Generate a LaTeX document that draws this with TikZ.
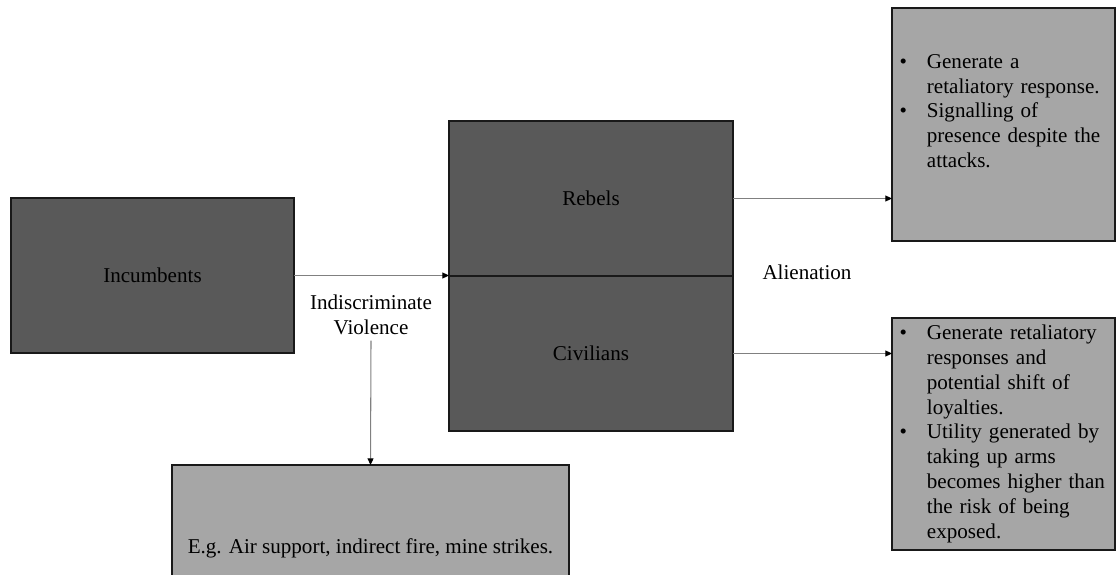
\documentclass[tikz,border=0pt]{standalone}
\usepackage{fontspec}
\setmainfont{Liberation Serif}
\usetikzlibrary{arrows, arrows.meta, positioning, calc}
\tikzset{
    darkbox/.style={
        draw=black!90,
        line width=0.8pt,
        fill=black!65,
        minimum width=5.66cm,
        minimum height=3.1cm,
        outer sep=0pt,
    },
    lightbox/.style={
        draw=black!90,
        line width=0.8pt,
        fill=black!35,
        outer sep=0pt,
        inner sep=0pt,
    },
    notebox/.style={
        lightbox,
        text width=4.16cm,
        minimum height=#1,
        align=left,
        inner xsep=0.15cm,
    },
    link/.style={
        draw=black!50,
        line width=0.6pt,
        -{Triangle[length=3.8pt,width=3.4pt,black]},
    },
}

\begin{document}
\begin{tikzpicture}[font=\fontsize{12}{14.2}\selectfont]

\useasboundingbox (0,0) rectangle (22.32cm,11.48cm);

\node[darkbox] (inc) at (3.05cm,5.97cm) {Incumbents};
\node[darkbox, minimum width=5.68cm] (reb) at (11.82cm,7.51cm) {Rebels};
\node[darkbox, minimum width=5.68cm, below=0pt of reb] (civ) {Civilians};

% outcome boxes on the right
\node[notebox=4.66cm] (resp1) at (20.07cm,8.99cm) {%
\begin{tabular}{@{}l@{\hspace{0.4cm}}l@{}}
\textbullet & Generate a\\
 & retaliatory response.\\
\textbullet & Signalling of\\
 & presence despite the\\
 & attacks.\\[0.46cm]
\end{tabular}};
\node[notebox=4.64cm] (resp2) at (20.07cm,2.80cm) {%
\begin{tabular}{@{}l@{\hspace{0.4cm}}l@{}}
\textbullet & Generate retaliatory\\
 & responses and\\
 & potential shift of\\
 & loyalties.\\
\textbullet & Utility generated by\\
 & taking up arms\\
 & becomes higher than\\
 & the risk of being\\
 & exposed.
\end{tabular}};

\node[lightbox, minimum width=7.94cm, minimum height=3.32cm] (eg) at (7.41cm,0.52cm) {E.g. Air support, indirect fire, mine strikes.};

\node[align=center] (viol) at (7.42cm,5.19cm) {Indiscriminate\\Violence};
\node (alien) at (16.14cm,6.04cm) {Alienation};

\draw[link] (inc.east) -- (inc.east -| reb.west);
\draw[link] (viol.south) -- (eg.north);
\draw[link] (reb.east) -- (reb.east -| resp1.west);
\draw[link] (civ.east) -- (civ.east -| resp2.west);

\end{tikzpicture}
\end{document}
